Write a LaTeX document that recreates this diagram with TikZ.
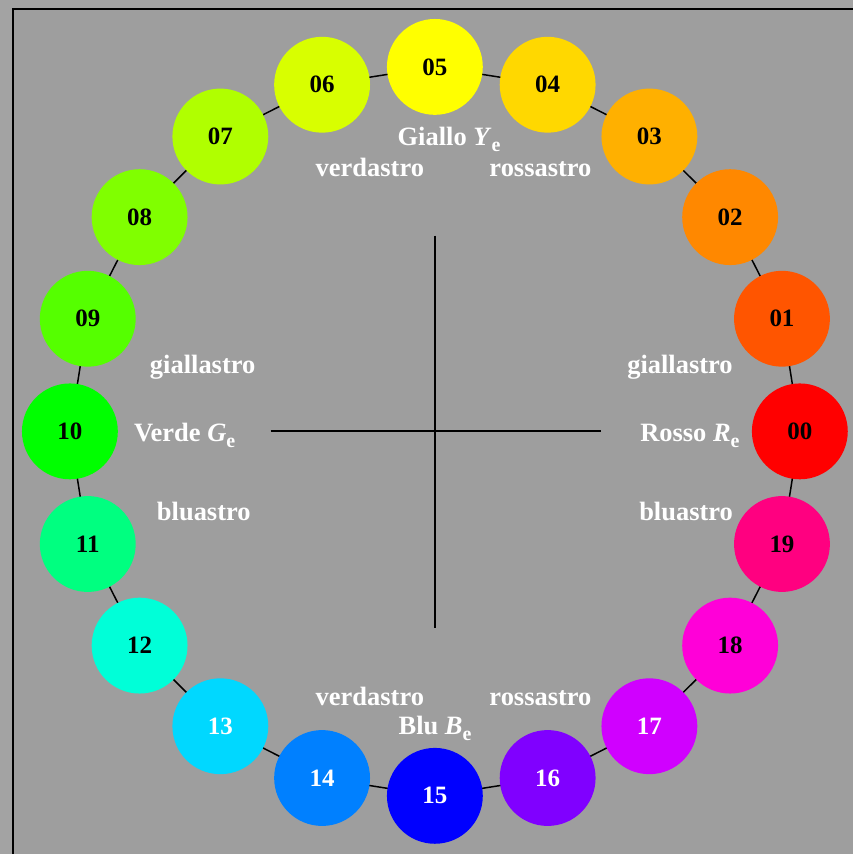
\documentclass[tikz,border=0pt]{standalone}
\usepackage{fontspec}
\setmainfont{Liberation Serif}
\usetikzlibrary{calc}
\definecolor{outerbg}{HTML}{A3A3A3}
\definecolor{innerbg}{HTML}{9E9E9E}
\definecolor{c00}{HTML}{FF0000}
\definecolor{c01}{HTML}{FF5500}
\definecolor{c02}{HTML}{FF8800}
\definecolor{c03}{HTML}{FFB000}
\definecolor{c04}{HTML}{FFD800}
\definecolor{c05}{HTML}{FFFF00}
\definecolor{c06}{HTML}{D8FF00}
\definecolor{c07}{HTML}{B0FF00}
\definecolor{c08}{HTML}{80FF00}
\definecolor{c09}{HTML}{55FF00}
\definecolor{c10}{HTML}{00FF00}
\definecolor{c11}{HTML}{00FF80}
\definecolor{c12}{HTML}{00FFD8}
\definecolor{c13}{HTML}{00D8FF}
\definecolor{c14}{HTML}{0080FF}
\definecolor{c15}{HTML}{0000FF}
\definecolor{c16}{HTML}{8000FF}
\definecolor{c17}{HTML}{D000FF}
\definecolor{c18}{HTML}{FF00D8}
\definecolor{c19}{HTML}{FF0080}
\newcommand{\mysub}[1]{\raisebox{-0.22em}{\fontsize{20}{20}\selectfont #1}}
\tikzset{
  hue/.style={circle, minimum size=96pt, inner sep=0pt, fill=#1,
    font=\fontsize{25}{25}\selectfont\bfseries},
  lbl/.style={anchor=base west, inner sep=0pt, text=white,
    font=\fontsize{26.5}{26.5}\selectfont\bfseries},
  ring/.style={black, line width=1.5pt},
  axis/.style={black, line width=1.8pt}
}
\begin{document}
\begin{tikzpicture}[x=1pt,y=-1pt]
\fill[outerbg] (0,0) rectangle (854,855);
\fill[innerbg] (13,9) rectangle (854,855);
\draw[black,line width=2.5pt] (13,855) -- (13,9) -- (854,9);
\useasboundingbox (0,0) rectangle (854,855);
% cross
\coordinate (hl) at (271,432);
\coordinate (hr) at (602,432);
\coordinate (vt) at (436,236);
\coordinate (vb) at (436,629);
\draw[axis] (hl) -- (hr);
\draw[axis] (vt) -- (vb);
% circle centres
\foreach \i in {0,...,19}{
  \pgfmathsetmacro{\ang}{18*\i}
  \coordinate (p\i) at ($(435.5,432)+({365.5*cos(\ang)},{-365*sin(\ang)})$);
}
\foreach \i [evaluate=\i as \j using {int(mod(\i+1,20))}] in {0,...,19}{
  \draw[ring] (p\i) -- (p\j);
}
\foreach \i/\c/\t/\n in {0/c00/black/00,1/c01/black/01,2/c02/black/02,3/c03/black/03,4/c04/black/04,5/c05/black/05,6/c06/black/06,7/c07/black/07,8/c08/black/08,9/c09/black/09,10/c10/black/10,11/c11/black/11,12/c12/black/12,13/c13/white/13,14/c14/white/14,15/c15/white/15,16/c16/white/16,17/c17/white/17,18/c18/black/18,19/c19/black/19}{
  \node[hue=\c, text=\t] (n\i) at (p\i) {\n};
}
% labels
\node[lbl] (gy) at (398,146) {Giallo \textit{Y}\mysub{e}};
\node[lbl] (vd1) at (316,177) {verdastro};
\node[lbl] (rs1) at (490,177) {rossastro};
\node[lbl] (gl1) at (150,374) {giallastro};
\node[lbl] (gl2) at (628,374) {giallastro};
\node[lbl] (vg) at (134,442) {Verde \textit{G}\mysub{e}};
\node[lbl] (rr) at (641,442) {Rosso \textit{R}\mysub{e}};
\node[lbl] (bl1) at (157,521) {bluastro};
\node[lbl] (bl2) at (640,521) {bluastro};
\node[lbl] (vd2) at (316,707) {verdastro};
\node[lbl] (rs2) at (490,707) {rossastro};
\node[lbl] (bb) at (399,736) {Blu \textit{B}\mysub{e}};
\end{tikzpicture}
\end{document}
